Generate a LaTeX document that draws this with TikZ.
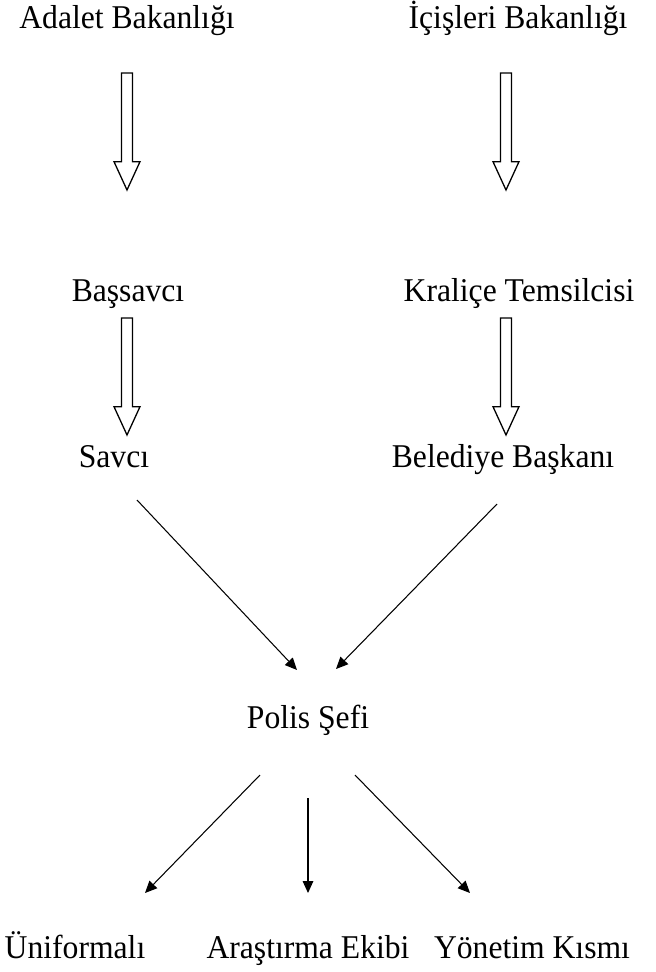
\documentclass[tikz,border=0pt]{standalone}
\usepackage{fontspec}
\setmainfont{Liberation Serif}
\usetikzlibrary{calc,arrows.meta}
\tikzset{lbl/.style={anchor=base,inner sep=0pt,yscale=1.05,font=\fontsize{27}{31}\selectfont},
hollow/.style={draw,line width=1.1pt,line join=miter,fill=white},
conn/.style={line width=0.9pt,-{Triangle[length=3.6mm,width=3.2mm]}}}
\newcommand{\hollowarrow}[2]{
\draw[hollow] let \p1=(#1),\p2=(#2) in
(\x1-0.165cm,\y1) -- (\x1+0.165cm,\y1) -- (\x1+0.165cm,\y2+0.85cm)
-- (\x1+0.39cm,\y2+0.85cm) -- (\x2,\y2) -- (\x1-0.39cm,\y2+0.85cm)
-- (\x1-0.165cm,\y2+0.85cm) -- cycle;}

\begin{document}
\begin{tikzpicture}[x=0.03cm,y=-0.03cm]
\useasboundingbox (0,0) rectangle (656,972);
\node[lbl] (adalet) at (127,28) {Adalet Bakanlığı};
\node[lbl] (icisleri) at (518,28) {İçişleri Bakanlığı};
\node[lbl] (bassavci) at (128,301) {Başsavcı};
\node[lbl] (kralice) at (519,301) {Kraliçe Temsilcisi};
\node[lbl] (savci) at (114,467) {Savcı};
\node[lbl] (belediye) at (503,467) {Belediye Başkanı};
\node[lbl] (polis) at (308,728) {Polis Şefi};
\node[lbl] (uniformali) at (75,958) {Üniformalı};
\node[lbl] (arastirma) at (308,958) {Araştırma Ekibi};
\node[lbl] (yonetim) at (532,958) {Yönetim Kısmı};

\coordinate (a1) at (127,73);   \coordinate (a2) at (127,190);
\coordinate (i1) at (506,73);   \coordinate (i2) at (506,190);
\coordinate (b1) at (127,318);  \coordinate (b2) at (127,435);
\coordinate (k1) at (506,318);  \coordinate (k2) at (506,435);
\hollowarrow{a1}{a2}
\hollowarrow{i1}{i2}
\hollowarrow{b1}{b2}
\hollowarrow{k1}{k2}

\coordinate (s1) at (137,500);  \coordinate (s2) at (297,670);
\coordinate (d1) at (497,504);  \coordinate (d2) at (336,669);
\draw[conn] (s1) -- (s2);
\draw[conn] (d1) -- (d2);

\coordinate (p1) at (260,775);  \coordinate (u2) at (145,893);
\coordinate (p2) at (308,798);  \coordinate (r2) at (308,893);
\coordinate (p3) at (355,775);  \coordinate (y2) at (470,893);
\draw[conn] (p1) -- (u2);
\draw[conn] (p2) -- (r2);
\draw[conn] (p3) -- (y2);
\end{tikzpicture}
\end{document}
